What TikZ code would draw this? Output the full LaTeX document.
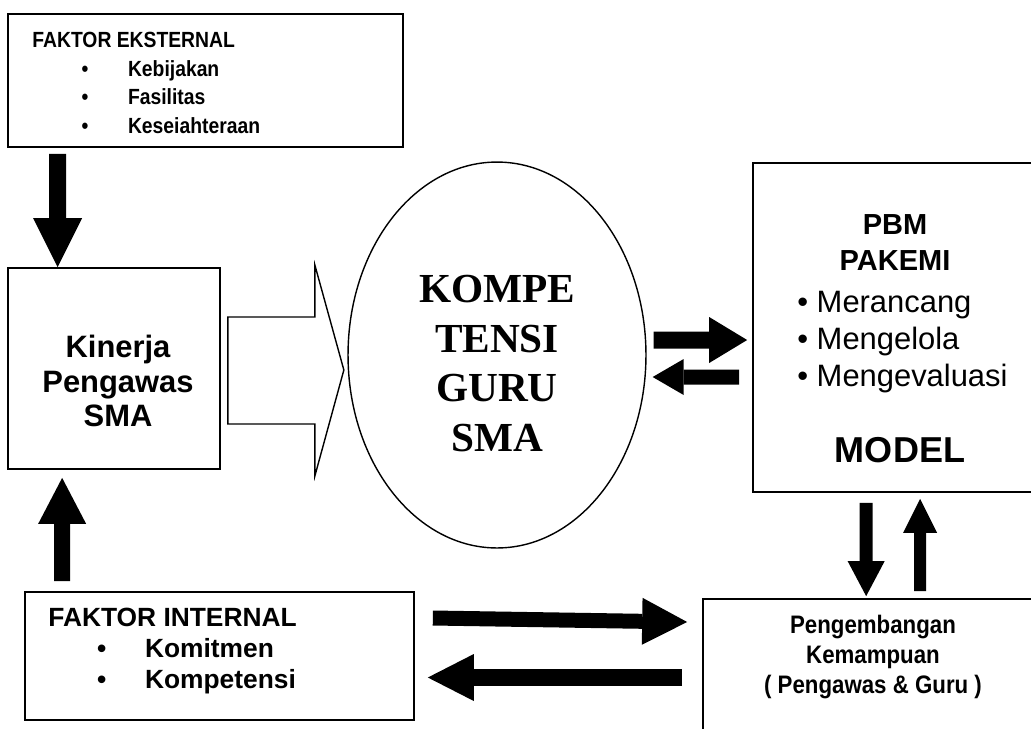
\documentclass[tikz,border=0pt]{standalone}
\usepackage{fontspec}
\setmainfont{Liberation Sans}
\newfontfamily\serifbold{Liberation Serif}
\newfontfamily\narrowsans{Liberation Sans}[FakeStretch=0.88]
\usetikzlibrary{shapes.geometric,arrows.meta}

\begin{document}
\begin{tikzpicture}[x=0.02cm, y=-0.02cm,
    every node/.style={inner sep=0pt, font=\bfseries},
    box/.style={draw, rectangle, line width=1pt},
    fat/.style n args={3}{line width=#1, -{Triangle[width=#2, length=#3, line width=0pt]}}]
  \path[use as bounding box, fill=white] (0,0) rectangle (1031,728);
  \clip (0,0) rectangle (1031,728);

  % Nodes
  \node[box, minimum width=7.9cm, minimum height=2.66cm] (ekst) at (205.5,80.5) {};
  \node[font=\fontsize{12.5}{16.3}\selectfont\narrowsans\bfseries, align=left, anchor=north west] (ekstt) at (32,32)
    {FAKTOR EKSTERNAL\\\hspace*{28.1pt}\textbullet\hspace{22.5pt}Kebijakan\\\hspace*{28.1pt}\textbullet\hspace{22.5pt}Fasilitas\\\hspace*{28.1pt}\textbullet\hspace{22.5pt}Keseiahteraan};

  \node[box, minimum width=4.24cm, minimum height=4.02cm] (kinerja) at (114,368.5) {};
  \node[font=\fontsize{17.6}{19.8}\selectfont\bfseries, align=center] (kinerjat) at (118,381) {Kinerja\\Pengawas\\SMA};

  \node[draw, ellipse, line width=0.8pt, minimum width=5.96cm, minimum height=7.72cm] (komp) at (497,355) {};
  \node[font=\fontsize{23.5}{28.4}\selectfont\serifbold\bfseries, align=center] (kompt) at (497,363.5) {KOMPE\\TENSI\\GURU\\SMA};

  \node[box, minimum width=5.84cm, minimum height=6.58cm] (pbm) at (899,327.5) {};
  \node[font=\fontsize{16.5}{20.4}\selectfont\bfseries, align=center] (pbmhead) at (895,242.5) {PBM\\PAKEMI};
  \node[font=\fontsize{17.6}{21}\selectfont, align=left, anchor=west] (pbmlist) at (797,342)
    {\textbullet{} Merancang\\\textbullet{} Mengelola\\\textbullet{} Mengevaluasi};
  \node[font=\fontsize{20.5}{24}\selectfont\bfseries, anchor=base] (pbmmodel) at (900,462) {MODEL};

  \node[box, minimum width=7.78cm, minimum height=2.56cm] (intl) at (219.5,656) {};
  \node[font=\fontsize{15}{17.6}\selectfont\bfseries, align=left, anchor=north west] (intlt) at (48,608)
    {FAKTOR INTERNAL\\\hspace*{27.8pt}\textbullet\hspace{22pt}Komitmen\\\hspace*{27.8pt}\textbullet\hspace{22pt}Kompetensi};

  \node[box, minimum width=6.84cm, minimum height=2.92cm] (peng) at (874,672) {};
  \node[font=\fontsize{14.4}{17}\selectfont\narrowsans\bfseries, align=center] (pengt) at (873,657)
    {Pengembangan\\Kemampuan\\( Pengawas \& Guru )};

  % Edges
  \draw[fat={0.34cm}{0.98cm}{0.98cm}] ([shift={(50.5,6)}]ekst.south west) -- ([shift={(50.5,0)}]kinerja.north west);
  \draw[fat={0.32cm}{0.96cm}{0.92cm}] ([shift={(38,-10)}]intl.north west) -- ([shift={(55,8)}]kinerja.south west);
  \draw[line width=0.8pt, line join=miter] ([shift={(7,-51.5)}]kinerja.east) -- ++(87,0) -- ++(0,-52)
    -- ++(29,105) -- ++(-29,106) -- ++(0,-52) -- ++(-87,0) -- cycle;
  \draw[fat={0.34cm}{0.92cm}{0.76cm}] ([shift={(7,-15)}]komp.east) -- ([shift={(-5,12.5)}]pbm.west);
  \draw[fat={0.3cm}{0.72cm}{0.62cm}] ([shift={(-13,49.5)}]pbm.west) -- ([shift={(6,22)}]komp.east);
  \draw[fat={0.26cm}{0.74cm}{0.7cm}] ([shift={(114,10)}]pbm.south west) -- ([shift={(164,-2)}]peng.north west);
  \draw[fat={0.24cm}{0.68cm}{0.68cm}] ([shift={(218,-7)}]peng.north west) -- ([shift={(168,6)}]pbm.south west);
  \draw[fat={0.3cm}{0.94cm}{0.9cm}] ([shift={(18,-38)}]intl.east) -- ([shift={(-15,-50)}]peng.west);
  \draw[fat={0.34cm}{0.94cm}{0.92cm}] ([shift={(-20,5.5)}]peng.west) -- ([shift={(13,21.5)}]intl.east);
\end{tikzpicture}
\end{document}
